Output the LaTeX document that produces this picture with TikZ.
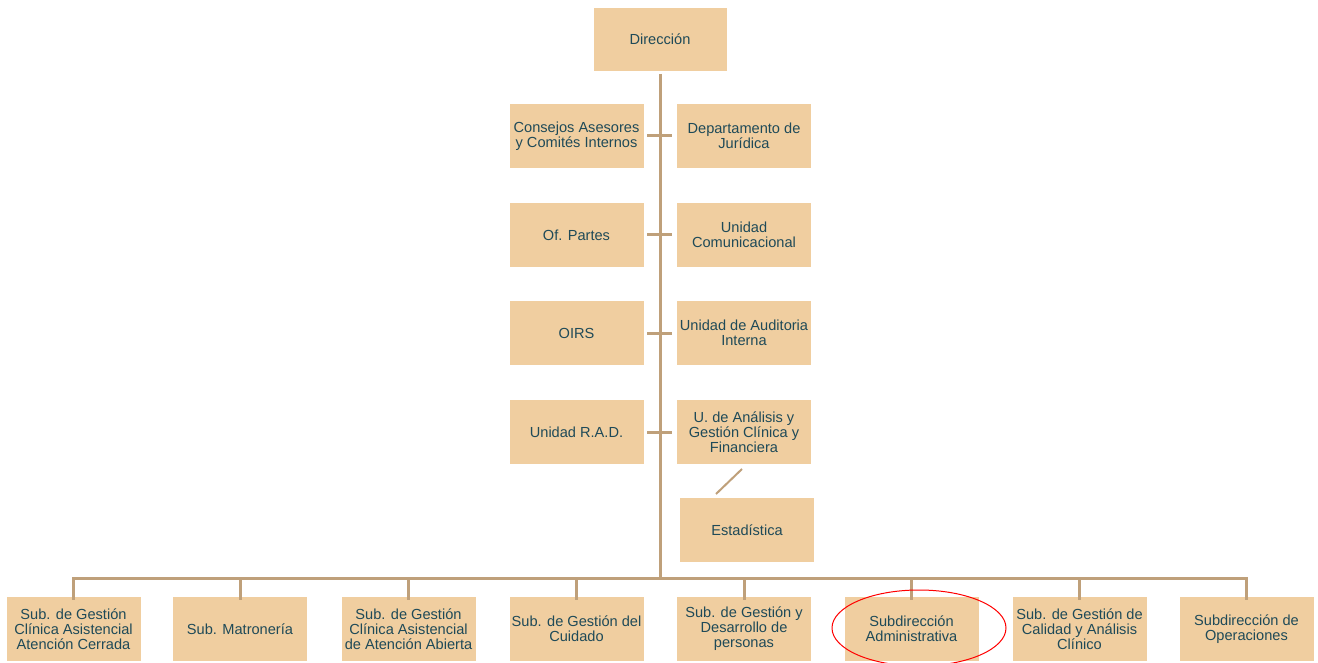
\documentclass[tikz,border=0pt]{standalone}
\usepackage{fontspec}
\setmainfont{Liberation Sans}
\definecolor{boxfill}{HTML}{F0CEA0}
\definecolor{txt}{HTML}{1F4A58}
\definecolor{lnk}{HTML}{BFA07A}
\begin{document}
\begin{tikzpicture}[x=1pt,y=-1pt,
  unit/.style={fill=boxfill,draw=white,line width=0.8pt,minimum width=135pt,minimum height=65pt,
    text=txt,align=center,inner sep=0.5pt,font=\fontsize{14.6}{15}\selectfont},
  link/.style={draw=lnk,line width=3pt}]
\useasboundingbox[fill=white] (0,0) rectangle (1318,663);
\node[unit,minimum width=134pt,minimum height=64pt] (dir) at (660,39) {Dirección};
% left column
\node[unit] (l1) at (576.5,136) {Consejos Asesores\\y Comités Internos};
\node[unit] (l2) at (576.5,235) {Of. Partes};
\node[unit] (l3) at (576.5,333) {OIRS};
\node[unit] (l4) at (576.5,432) {Unidad R.A.D.};
% right column
\node[unit] (r1) at (744,136) {Departamento de\\Jurídica};
\node[unit] (r2) at (744,235) {Unidad\\Comunicacional};
\node[unit] (r3) at (744,333) {Unidad de Auditoria\\Interna};
\node[unit] (r4) at (744,432) {U. de Análisis y\\Gestión Clínica y\\Financiera};
\node[unit] (est) at (747,530) {Estadística};
% bottom row
\node[unit] (b1) at (73.5,629) {Sub. de Gestión\\Clínica Asistencial\\Atención Cerrada};
\node[unit] (b2) at (240,629) {Sub. Matronería};
\node[unit] (b3) at (408.5,629) {Sub. de Gestión\\Clínica Asistencial\\de Atención Abierta};
\node[unit] (b4) at (576.5,629) {Sub. de Gestión del\\Cuidado};
\node[unit] (b5) at (744,629) {Sub. de Gestión y\\Desarrollo de\\personas};
\node[unit] (b6) at (911.5,629) {Subdirección\\Administrativa};
\node[unit] (b7) at (1079.5,629) {Sub. de Gestión de\\Calidad y Análisis\\Clínico};
\node[unit] (b8) at (1246.5,629) {Subdirección de\\Operaciones};
% trunk
\coordinate (top) at (660,74);
\coordinate (bar) at (660,578);
\draw[link] (top) -- (bar);
% side ticks
\foreach \r in {1,2,3,4}{
  \draw[link] ([xshift=3pt]l\r.east) -- ([xshift=-4pt]r\r.west);
}
% estadistica link
\coordinate (ea) at (742,469);
\coordinate (eb) at (716,494);
\draw[lnk,line width=2pt] (ea) -- (eb);
% bottom bar
\coordinate (barL) at (72,578);
\coordinate (barR) at (1248,578);
\draw[link] (barL) -- (barR);
\foreach \b in {b1,b2,b3,b4,b5,b6,b7,b8}{
  \draw[link] (\b.north |- bar) -- ([yshift=-4pt]\b.north);
}
% highlight
\draw[red,line width=1pt] (919,628) ellipse [x radius=87pt, y radius=38pt];
\end{tikzpicture}
\end{document}
